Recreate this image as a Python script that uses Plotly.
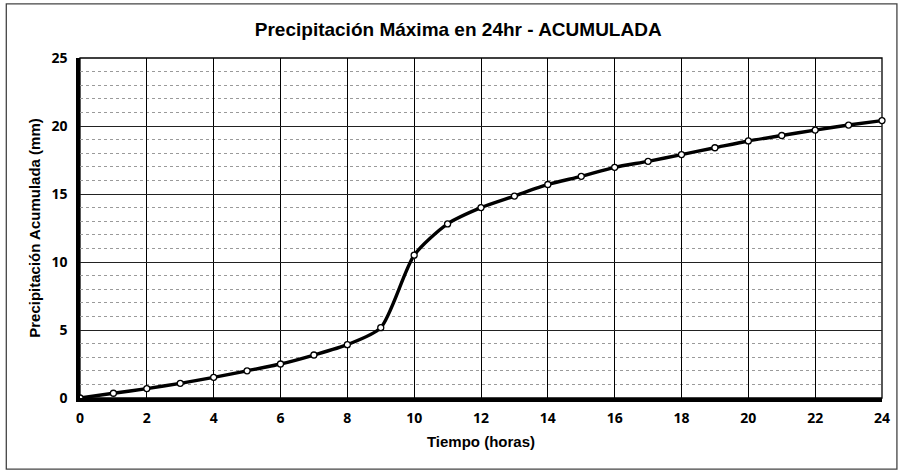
import plotly.graph_objects as go

# Hourly accumulated precipitation for the 24 h design storm
horas = list(range(0, 25))
precip_acumulada = [0.0, 0.35, 0.69, 1.08, 1.52, 2.0, 2.5, 3.16, 3.92, 5.17,
                    10.5, 12.8, 14.0, 14.85, 15.7, 16.3, 16.96, 17.4, 17.9,
                    18.4, 18.9, 19.3, 19.7, 20.07, 20.4]

x_ticks = list(range(0, 25, 2))
y_ticks = [0, 5, 10, 15, 20, 25]

font_family = "Liberation Sans, Arial, sans-serif"
tick_family = "Open Sans, DejaVu Sans, sans-serif"

fig = go.Figure()
fig.add_trace(go.Scatter(
    x=horas, y=precip_acumulada,
    mode="lines+markers",
    line=dict(color="black", width=3.4, shape="spline", smoothing=0.7),
    marker=dict(symbol="circle", size=6, color="white",
                line=dict(color="black", width=1.3)),
    showlegend=False,
    cliponaxis=False,
))

fig.update_layout(
    width=902, height=471,
    margin=dict(l=80, r=17, t=58, b=73),
    paper_bgcolor="white", plot_bgcolor="white",
    title=dict(text="<b>Precipitación Máxima en 24hr - ACUMULADA</b>",
               x=0.508, xanchor="center", y=0.937, yanchor="middle",
               font=dict(family=font_family, size=19, color="black")),
    font=dict(family=font_family, color="black"),
)

fig.update_xaxes(
    range=[0, 24], tickvals=x_ticks,
    ticktext=[f"<b>{v}</b>" for v in x_ticks],
    tickfont=dict(family=tick_family, size=14, color="black"),
    ticklabelstandoff=4,
    title=dict(text="<b>Tiempo (horas)</b>", font=dict(size=15), standoff=12),
    showgrid=True, gridcolor="black", gridwidth=1.3,
    showline=True, linecolor="black", linewidth=3.5, mirror=False,
    zeroline=False, ticks="", ticklen=0,
)
fig.update_yaxes(
    range=[0, 25], tickvals=y_ticks,
    ticktext=[f"<b>{v}</b>" for v in y_ticks],
    tickfont=dict(family=tick_family, size=14, color="black"),
    ticklabelstandoff=6,
    title=dict(text="<b>Precipitación Acumulada (mm)</b>", font=dict(size=15), standoff=8),
    showgrid=True, gridcolor="#222222", gridwidth=1.3,
    minor=dict(dtick=1, showgrid=True, gridcolor="#9a9a9a", griddash="dot", gridwidth=1),
    showline=True, linecolor="black", linewidth=3.5,
    zeroline=False, ticks="",
)

# plot-area frame (top and right edges)
fig.add_shape(type="rect", xref="x domain", yref="y domain", x0=0, y0=0, x1=1, y1=1,
              line=dict(color="black", width=1.3), layer="below")
# outer chart border
fig.add_shape(type="rect", xref="paper", yref="paper",
              x0=-0.0919, y0=-0.209, x1=1.0186, y1=1.159,
              line=dict(color="#444444", width=1.3))

fig.write_html("out.html")
